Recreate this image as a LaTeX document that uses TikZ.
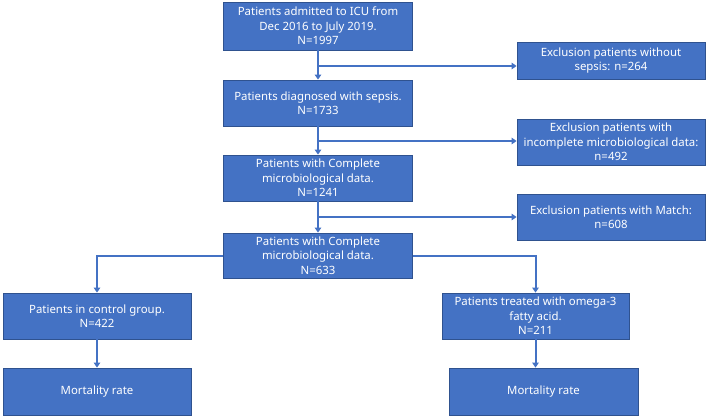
\documentclass[tikz,border=0pt]{standalone}
\usepackage{fontspec}
\setmainfont{Noto Sans}
\usetikzlibrary{arrows.meta}
\definecolor{boxblue}{HTML}{4472C4}
\definecolor{bdr}{HTML}{2F528F}
\definecolor{lineblue}{HTML}{4472C4}
\begin{document}
\begin{tikzpicture}[x=1pt,y=-1pt,
  box/.style={draw=bdr, fill=boxblue, text=white, align=center, inner sep=0pt,
    font=\fontsize{11.4}{14.5}\selectfont, line width=0.8pt},
  arr/.style={draw=lineblue, line width=2pt, -{Triangle[length=5pt,width=6.5pt]}}]
\useasboundingbox (0,0) rectangle (708,418);
\node[box, minimum width=189pt, minimum height=48pt] (b1) at (318,26) {Patients admitted to ICU from\\Dec 2016 to July 2019.\\N=1997};
\node[box, minimum width=189pt, minimum height=46pt] (b2) at (318,103) {Patients diagnosed with sepsis.\\N=1733};
\node[box, minimum width=189pt, minimum height=46pt] (b3) at (318,178) {Patients with Complete\\microbiological data.\\N=1241};
\node[box, minimum width=189pt, minimum height=45pt] (b4) at (318,255.5) {Patients with Complete\\microbiological data.\\N=633};
\node[box, minimum width=188pt, minimum height=37pt] (r1) at (611,60.5) {Exclusion patients without\\sepsis: n=264};
\node[box, minimum width=188pt, minimum height=46pt] (r2) at (611,142) {Exclusion patients with\\incomplete microbiological data:\\n=492};
\node[box, minimum width=188pt, minimum height=46pt] (r3) at (611,217) {Exclusion patients with Match:\\n=608};
\node[box, minimum width=188pt, minimum height=46pt] (l1) at (97,316) {Patients in control group.\\N=422};
\node[box, minimum width=188pt, minimum height=47pt] (l2) at (97,391.5) {Mortality rate};
\node[box, minimum width=187pt, minimum height=46pt] (g1) at (535.5,316) {Patients treated with omega-3\\fatty acid.\\N=211};
\node[box, minimum width=189pt, minimum height=47pt] (g2) at (543.5,391.5) {Mortality rate};
\coordinate (j1) at (318,66);
\coordinate (j2) at (318,141);
\coordinate (j3) at (318,217);
\draw[arr] (b1.south) -- (b2.north);
\draw[arr] (b2.south) -- (b3.north);
\draw[arr] (b3.south) -- (b4.north);
\draw[arr] (j1) -- (j1 -| r1.west);
\draw[arr] (j2) -- (j2 -| r2.west);
\draw[arr] (j3) -- (j3 -| r3.west);
\draw[arr] (b4.west) -| (l1.north);
\draw[arr] (b4.east) -| (g1.north);
\draw[arr] (l1.south) -- (l2.north);
\draw[arr] (g1.south) -- (g1.south |- g2.north);
\end{tikzpicture}
\end{document}
